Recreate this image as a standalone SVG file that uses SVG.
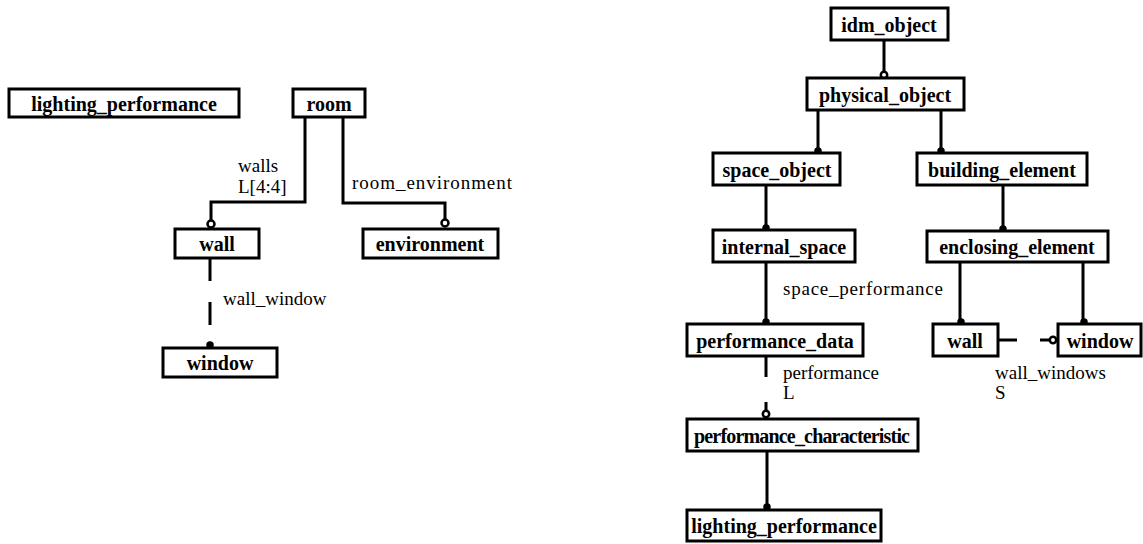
<svg xmlns="http://www.w3.org/2000/svg" width="1143" height="544" viewBox="0 0 1143 544">
<style>
.box{fill:#fff;stroke:#000;stroke-width:3}
.t{font-family:"Liberation Serif","Times New Roman",serif;font-weight:bold;font-size:20px;text-anchor:middle;fill:#000}
.l{font-family:"Liberation Serif","Times New Roman",serif;font-size:19px;fill:#000}
.c{fill:none;stroke:#000;stroke-width:3}
.dot{fill:#000;stroke:#000;stroke-width:1.5}
.odot{fill:#fff;stroke:#000;stroke-width:2.5}
</style>
<rect width="1143" height="544" fill="#fff"/>
<g id="connectors">
<path class="c" d="M305 117V202H211V220"/>
<circle class="odot" cx="211" cy="224" r="3.5"/>
<path class="c" d="M343 117V203H445V219"/>
<circle class="odot" cx="445" cy="223" r="3.5"/>
<path class="c" d="M210 258V281M210 302V325"/>
<path class="c" d="M210 344V348"/>
<circle class="dot" cx="210" cy="345" r="3"/>
<path class="c" d="M884 40V72"/>
<circle class="odot" cx="884" cy="75" r="3.2"/>
<path class="c" d="M818 110V149"/>
<circle class="dot" cx="818" cy="151" r="3"/>
<path class="c" d="M941 110V149"/>
<circle class="dot" cx="941" cy="151" r="3"/>
<path class="c" d="M766 185V226"/>
<circle class="dot" cx="766" cy="228" r="3"/>
<path class="c" d="M1003 185V227"/>
<circle class="dot" cx="1003" cy="229" r="3"/>
<path class="c" d="M766 262V320"/>
<circle class="dot" cx="766" cy="322" r="3"/>
<path class="c" d="M960 262V320"/>
<circle class="dot" cx="961" cy="322" r="3"/>
<path class="c" d="M1083 262V320"/>
<circle class="dot" cx="1084" cy="322" r="3"/>
<path class="c" d="M766 356V377M766 402V413"/>
<circle class="odot" cx="766" cy="414" r="3.2"/>
<path class="c" d="M998 340H1017M1040 340H1057"/>
<circle class="odot" cx="1053" cy="340" r="3.2"/>
<path class="c" d="M767 451V505"/>
<circle class="dot" cx="767" cy="507" r="3"/>
</g>
<g id="labels">
<text class="l" x="238" y="172">walls</text>
<text class="l" x="238" y="193">L[4:4]</text>
<text class="l" x="352" y="189" textLength="160">room_environment</text>
<text class="l" x="223" y="305">wall_window</text>
<text class="l" x="783" y="295" textLength="160">space_performance</text>
<text class="l" x="783" y="379">performance</text>
<text class="l" x="783" y="399">L</text>
<text class="l" x="995" y="379">wall_windows</text>
<text class="l" x="995" y="399">S</text>
</g>
<g id="lighting_performance_left"><rect class="box" x="9" y="89" width="230" height="28"/><text class="t" x="124" y="111">lighting_performance</text></g>
<g id="room"><rect class="box" x="293" y="89" width="72" height="28"/><text class="t" x="329" y="111">room</text></g>
<g id="wall_left"><rect class="box" x="175" y="229" width="84" height="29"/><text class="t" x="217" y="251">wall</text></g>
<g id="environment"><rect class="box" x="363" y="229" width="135" height="29"/><text class="t" x="430" y="251">environment</text></g>
<g id="window_left"><rect class="box" x="163" y="348" width="114" height="29"/><text class="t" x="220" y="370">window</text></g>
<g id="idm_object"><rect class="box" x="831" y="8" width="117" height="32"/><text class="t" x="889" y="32">idm_object</text></g>
<g id="physical_object"><rect class="box" x="807" y="78" width="157" height="32"/><text class="t" x="885" y="102">physical_object</text></g>
<g id="space_object"><rect class="box" x="713" y="153" width="127" height="32"/><text class="t" x="777" y="177">space_object</text></g>
<g id="building_element"><rect class="box" x="917" y="153" width="170" height="32"/><text class="t" x="1002" y="177">building_element</text></g>
<g id="internal_space"><rect class="box" x="713" y="230" width="142" height="32"/><text class="t" x="784" y="254">internal_space</text></g>
<g id="enclosing_element"><rect class="box" x="927" y="231" width="181" height="31"/><text class="t" x="1017" y="254">enclosing_element</text></g>
<g id="performance_data"><rect class="box" x="687" y="324" width="176" height="32"/><text class="t" x="775" y="348">performance_data</text></g>
<g id="wall_right"><rect class="box" x="933" y="324" width="65" height="32"/><text class="t" x="965" y="348">wall</text></g>
<g id="window_right"><rect class="box" x="1058" y="324" width="83" height="32"/><text class="t" x="1100" y="348">window</text></g>
<g id="performance_characteristic"><rect class="box" x="687" y="419" width="231" height="32"/><text class="t" x="802" y="443" textLength="216">performance_characteristic</text></g>
<g id="lighting_performance_right"><rect class="box" x="687" y="510" width="194" height="31"/><text class="t" x="784" y="533">lighting_performance</text></g>
</svg>
